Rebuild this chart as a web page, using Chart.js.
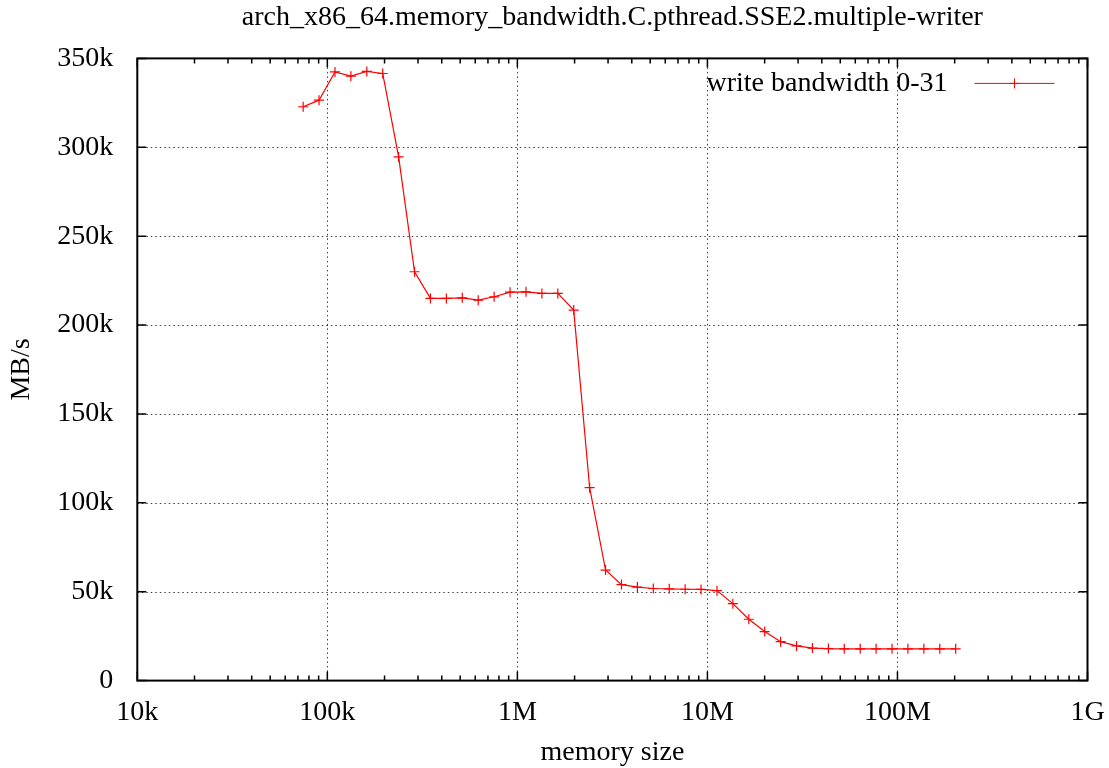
<!DOCTYPE html>
<html>
<head>
<meta charset="utf-8">
<script src="https://cdn.jsdelivr.net/npm/chart.js@4/dist/chart.umd.min.js"></script>
<style>
  body { margin: 0; background: #fff; }
  #wrap { width: 1109px; height: 768px; }
</style>
</head>
<body>
<div id="wrap"><canvas id="bwChart"></canvas></div>
<script>
const title = 'arch_x86_64.memory_bandwidth.C.pthread.SSE2.multiple-writer';
const seriesLabel = 'write bandwidth 0-31';

// memory size (bytes)
const sizes = [
  74.6e3, 90.4e3, 109.7e3, 133e3, 161.3e3, 195.6e3, 237.2e3, 287.7e3, 348.8e3, 423e3,
  513e3, 622.2e3, 754.5e3, 915.1e3, 1.11e6, 1.346e6, 1.632e6, 1.979e6, 2.4e6, 2.911e6,
  3.53e6, 4.281e6, 5.191e6, 6.296e6, 7.634e6, 9.257e6, 11.23e6, 13.61e6, 16.51e6, 20.02e6,
  24.28e6, 29.44e6, 35.7e6, 43.3e6, 52.5e6, 63.67e6, 77.21e6, 93.63e6, 113.5e6, 137.7e6,
  167e6, 202.5e6,
];

// write bandwidth in MB/s
const bandwidth = [
  322800, 326500, 342400, 340000, 342700, 341500, 294600, 230000, 215000, 215000,
  215300, 214000, 215900, 218500, 218700, 217800, 217800, 208400, 108500, 62200,
  54000, 52600, 51800, 51600, 51400, 51300, 50600, 43300, 34500, 27600,
  21900, 19500, 18300, 18000, 17900, 17900, 17900, 17900, 17900, 17900,
  17900, 17900,
];

const xTicks = [1e4, 1e5, 1e6, 1e7, 1e8, 1e9];
const xTickLabels = ['10k', '100k', '1M', '10M', '100M', '1G'];
const yTickLabels = ['0', '50k', '100k', '150k', '200k', '250k', '300k', '350k'];

const font = { family: "'Liberation Serif', serif", size: 28 };
const red = '#ff0000';

const points = sizes.map((x, i) => ({ x, y: bandwidth[i] }));

// gnuplot-like frame, dotted grid, inward ticks, title and key
const gnuplotFrame = {
  id: 'gnuplotFrame',
  beforeDatasetsDraw(chart) {
    const { ctx, chartArea: a, scales: { x, y } } = chart;
    ctx.save();
    ctx.lineWidth = 1;
    ctx.strokeStyle = 'rgba(0,0,0,0.75)';
    ctx.setLineDash([1.5, 3]);
    ctx.beginPath();
    xTicks.slice(1, -1).forEach((v) => {
      const px = Math.round(x.getPixelForValue(v)) + 0.5;
      ctx.moveTo(px, a.top); ctx.lineTo(px, a.bottom);
    });
    y.ticks.slice(1, -1).forEach((t) => {
      const py = Math.round(y.getPixelForValue(t.value)) + 0.5;
      ctx.moveTo(a.left, py); ctx.lineTo(a.right, py);
    });
    ctx.stroke();
    ctx.setLineDash([]);
    ctx.strokeStyle = '#000';
    ctx.lineWidth = 1.5;
    ctx.beginPath();
    for (let d = 0; d < xTicks.length; d++) {
      for (let m = 1; m < 10; m++) {
        const v = xTicks[d] * m;
        if (v > xTicks[xTicks.length - 1]) break;
        const px = x.getPixelForValue(v);
        const len = m === 1 ? 9 : 5;
        ctx.moveTo(px, a.bottom); ctx.lineTo(px, a.bottom - len);
        ctx.moveTo(px, a.top); ctx.lineTo(px, a.top + len);
      }
    }
    y.ticks.forEach((t) => {
      const py = y.getPixelForValue(t.value);
      ctx.moveTo(a.left, py); ctx.lineTo(a.left + 9, py);
      ctx.moveTo(a.right, py); ctx.lineTo(a.right - 9, py);
    });
    ctx.stroke();
    ctx.lineWidth = 2;
    ctx.strokeRect(a.left, a.top, a.right - a.left, a.bottom - a.top);
    ctx.restore();
  },
  afterDraw(chart) {
    const { ctx, chartArea: a } = chart;
    const ky = a.top + 25;
    ctx.save();
    ctx.font = `${font.size}px ${font.family}`;
    ctx.fillStyle = '#000';
    ctx.textBaseline = 'middle';
    ctx.textAlign = 'center';
    ctx.fillText(title, (a.left + a.right) / 2, 18);
    ctx.textAlign = 'right';
    ctx.fillText(seriesLabel, a.right - 140, ky);
    ctx.strokeStyle = red;
    ctx.lineWidth = 1;
    ctx.beginPath();
    ctx.moveTo(a.right - 113, ky); ctx.lineTo(a.right - 33, ky);
    ctx.moveTo(a.right - 78, ky); ctx.lineTo(a.right - 68, ky);
    ctx.moveTo(a.right - 73, ky - 5); ctx.lineTo(a.right - 73, ky + 5);
    ctx.stroke();
    ctx.restore();
  },
};

const ctx = document.getElementById('bwChart');
const bwChart = new Chart(ctx, {
  type: 'scatter',
  data: {
    datasets: [{
      label: seriesLabel,
      data: points,
      showLine: true,
      borderColor: red,
      backgroundColor: red,
      borderWidth: 1.2,
      tension: 0,
      pointStyle: 'cross',
      pointRadius: 5,
      pointBorderWidth: 1.2,
    }],
  },
  options: {
    responsive: true,
    maintainAspectRatio: false,
    animation: false,
    layout: { padding: { left: 0, right: 21.5, top: 58.4, bottom: 0 } },
    plugins: {
      legend: { display: false },
      tooltip: { enabled: false },
      title: { display: false },
    },
    scales: {
      x: {
        type: 'logarithmic',
        min: xTicks[0],
        max: xTicks[xTicks.length - 1],
        grid: { display: false },
        border: { display: false },
        afterBuildTicks: (scale) => { scale.ticks = xTicks.map((v) => ({ value: v })); },
        afterFit: (scale) => {
          scale.height = 87.4;
          scale.paddingLeft = 0;
          scale.paddingRight = 0;
        },
        ticks: {
          color: '#000',
          font,
          padding: 7,
          maxRotation: 0,
          autoSkip: false,
          callback: (v) => xTickLabels[xTicks.indexOf(v)],
        },
        title: {
          display: true,
          text: 'memory size',
          color: '#000',
          font: { ...font, lineHeight: 1.2 },
          padding: { top: 0, bottom: -1 },
        },
      },
      y: {
        min: 0,
        max: 350000,
        grid: { display: false },
        border: { display: false },
        afterFit: (scale) => {
          scale.width = 137.3;
          scale.paddingTop = 0;
          scale.paddingBottom = 0;
        },
        ticks: {
          stepSize: 50000,
          color: '#000',
          font,
          padding: 16,
          callback: (v) => yTickLabels[Math.round(v / 50000)],
        },
        title: {
          display: true,
          text: 'MB/s',
          color: '#000',
          font: { ...font, lineHeight: 1.2 },
          padding: { top: 5.2, bottom: 0 },
        },
      },
    },
  },
  plugins: [gnuplotFrame],
});
</script>
</body>
</html>
